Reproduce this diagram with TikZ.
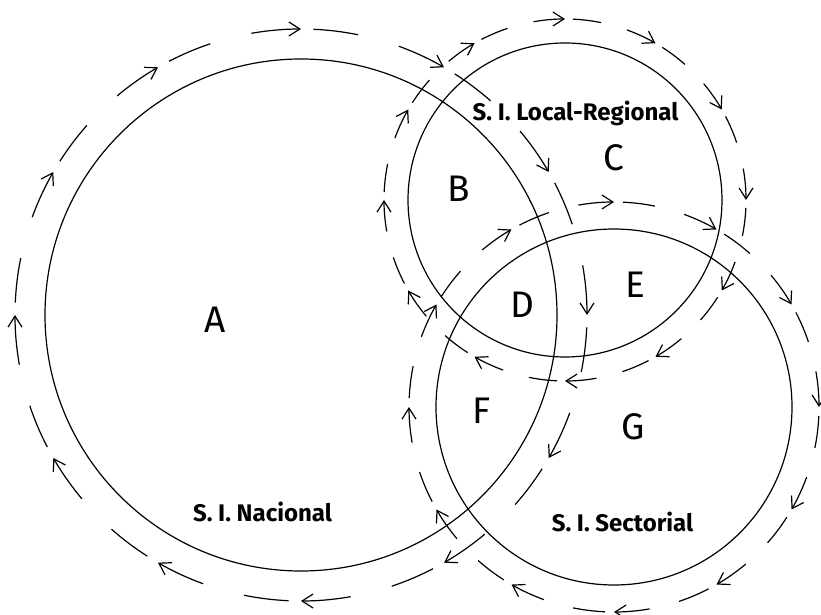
\documentclass[tikz,border=0pt]{standalone}
\usepackage{fontspec}
\setmainfont{Fira Sans}
\usetikzlibrary{arrows.meta}
\begin{document}
\begin{tikzpicture}[x=1pt,y=1pt,
  ring/.style={draw, circle, inner sep=0pt, line width=1.2pt},
  region/.style={font=\fontsize{37}{37}\selectfont, inner sep=0pt},
  sysname/.style={font=\bfseries\fontsize{24}{24}\selectfont, anchor=base, inner sep=0pt},
  flowarrow/.style={line width=1.2pt, -{Straight Barb[length=11pt,width=14pt]}},
  flowdash/.style={line width=1.2pt}]
\useasboundingbox (0,0) rectangle (821,615);

% centres of the three systems
\coordinate (cN) at (301,300);
\coordinate (cL) at (565,415);
\coordinate (cS) at (614,208);

% the three systems
\node[ring, minimum size=512pt] (nac) at (cN) {};
\node[ring, minimum size=314pt] (loc) at (cL) {};
\node[ring, minimum size=356pt] (sec) at (cS) {};

% clockwise flow around each system: an arrowed dash, then a plain dash
\foreach \c/\r in {cN/286, cL/181, cS/205} {
  \foreach \k in {0,...,11} {
    \pgfmathsetmacro\t{90-30*\k}
    \draw[flowarrow] ([shift={(\t+10:\r)}]\c) arc[start angle=\t+10, end angle=\t, radius=\r];
    \draw[flowdash] ([shift={(\t-2.5:\r)}]\c) arc[start angle=\t-2.5, end angle=\t-11.5, radius=\r];
  }
}

% regions
\node[region] (rA) at (215,295) {A};
\node[region] (rB) at (459,426.5) {B};
\node[region] (rC) at (614,457) {C};
\node[region] (rD) at (522,310) {D};
\node[region] (rE) at (635,330) {E};
\node[region] (rF) at (482,204) {F};
\node[region] (rG) at (633,188) {G};

% system names
\node[sysname] (tL) at (575.5,494) {S. I. Local-Regional};
\node[sysname] (tN) at (262.5,93) {S. I. Nacional};
\node[sysname] (tS) at (622.5,83) {S. I. Sectorial};
\end{tikzpicture}
\end{document}
